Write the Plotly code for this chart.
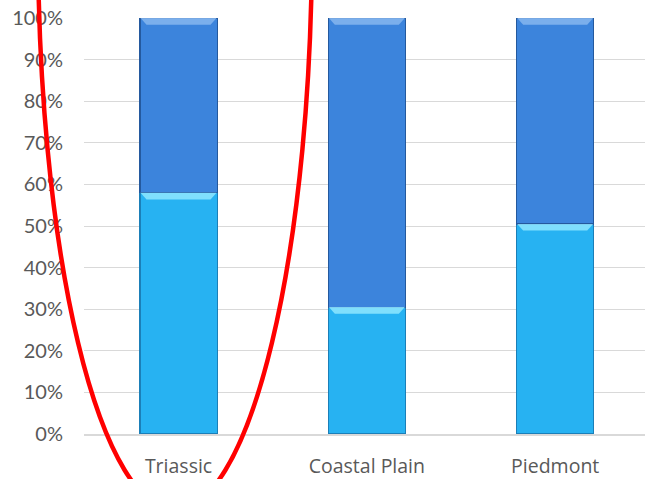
import plotly.graph_objects as go

# Share of each province in two classes (percent of total)
categories = ["Triassic", "Coastal Plain", "Piedmont"]
lower_share = [58.0, 30.5, 50.5]
upper_share = [42.0, 69.5, 49.5]
y_ticks = list(range(0, 101, 10))
y_tick_labels = [f"{v}%" for v in y_ticks]

W, H = 645, 479
M_L, M_R, M_T, M_B = 84, 0, 18, 45
plot_w = W - M_L - M_R
plot_h = H - M_T - M_B
BAR_W = 0.41


def px_to_paper_x(px):
    return (px - M_L) / plot_w


def px_to_paper_y(py):
    return (H - M_B - py) / plot_h


fig = go.Figure()
fig.add_trace(go.Bar(
    x=categories, y=lower_share, name="Lower",
    marker=dict(color="#27b2f2", line=dict(color="#1b7fb8", width=1.2)),
    width=BAR_W,
))
fig.add_trace(go.Bar(
    x=categories, y=upper_share, name="Upper",
    marker=dict(color="#3c84dc", line=dict(color="#24599e", width=1.2)),
    width=BAR_W,
))

# Bevel highlight along the top edge of every segment
bevel_dy = 1.6     # percent
bevel_dx = 0.035   # category units
for i, (lo, up) in enumerate(zip(lower_share, upper_share)):
    for top, color in ((lo, "#8fe6ff"), (lo + up, "#86b6ee")):
        x0, x1 = i - BAR_W / 2, i + BAR_W / 2
        path = (f"M {x0 + 0.003},{top} L {x1 - 0.003},{top} "
                f"L {x1 - bevel_dx},{top - bevel_dy} L {x0 + bevel_dx},{top - bevel_dy} Z")
        fig.add_shape(type="path", xref="x", yref="y", path=path,
                      fillcolor=color, line=dict(width=0), opacity=0.85)

# Red ellipse circling the Triassic column
fig.add_shape(
    type="circle", xref="paper", yref="paper",
    x0=px_to_paper_x(38), x1=px_to_paper_x(312),
    y0=px_to_paper_y(510), y1=px_to_paper_y(-630),
    line=dict(color="#ff0000", width=4.5),
    layer="above",
)

fig.update_layout(
    width=W, height=H,
    margin=dict(l=M_L, r=M_R, t=M_T, b=M_B),
    barmode="stack",
    showlegend=False,
    plot_bgcolor="white",
    paper_bgcolor="white",
    font=dict(family="Lato, Calibri, sans-serif", size=20, color="#595959"),
)
fig.update_xaxes(
    range=[-0.502, 2.477],
    showgrid=False, showline=True, linecolor="#d9d9d9", linewidth=2,
    ticks="", tickfont=dict(family="Open Sans, sans-serif", size=19.5, color="#595959"),
    ticklabelstandoff=14,
)
fig.update_yaxes(
    range=[0, 100], tickvals=y_ticks, ticktext=y_tick_labels,
    showgrid=True, gridcolor="#d9d9d9", gridwidth=1.3,
    zeroline=False, showline=False, ticks="",
    tickfont=dict(size=20, color="#595959"), ticklabelstandoff=20,
)

fig.write_html("out.html")
